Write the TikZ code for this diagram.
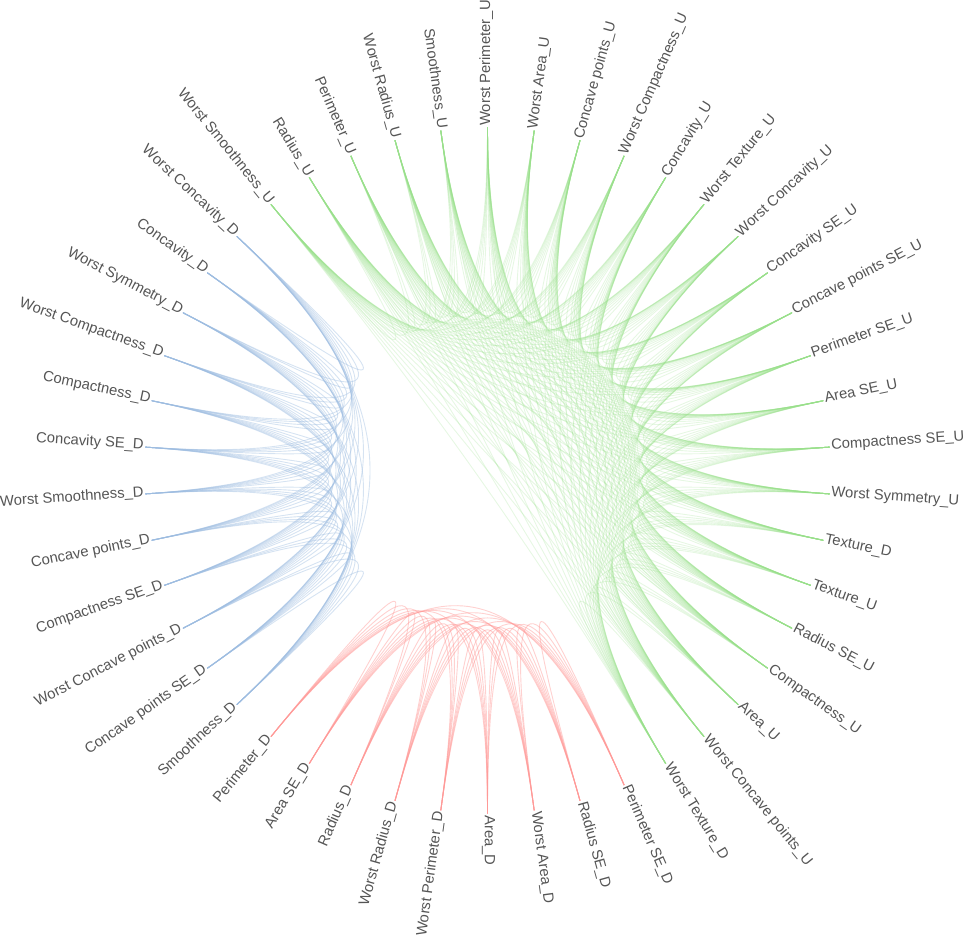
\documentclass[tikz,border=0pt]{standalone}
\usepackage{fontspec}
\setmainfont{Liberation Sans}
\definecolor{gcol}{HTML}{98DF8A}
\definecolor{bcol}{HTML}{9DBCE0}
\definecolor{rcol}{HTML}{FF9896}
\definecolor{tcol}{HTML}{555555}
\tikzset{
  edge/.style={line width=0.9pt},
  gedge/.style={edge, draw=gcol, draw opacity=0.24},
  bedge/.style={edge, draw=bcol, draw opacity=0.42},
  redge/.style={edge, draw=rcol, draw opacity=0.45},
  lbl/.style={inner sep=0pt, text=tcol, font=\fontsize{14.8}{17}\selectfont},
}
\begin{document}
\begin{tikzpicture}[x=1pt,y=1pt]
\useasboundingbox (-487.5,-466.5) rectangle (478.5,470.5);
\clip (-487.5,-466.5) rectangle (478.5,470.5);
% anchor points of the 46 leaves
\foreach \i in {1,...,46} {
  \pgfmathsetmacro\ang{90-(\i-1)*360/46}
  \coordinate (p\i) at (\ang:343);
  \coordinate (c\i) at (\ang:100);
}
% green group
\def\glist{1,2,3,4,5,6,7,8,9,10,11,12,13,14,15,16,17,18,19,20,42,43,44,45,46}
\foreach \a in \glist {
  \foreach \b in \glist {
    \ifnum\a<\b
      \draw[gedge] (p\a) .. controls (c\a) and (c\b) .. (p\b);
    \fi
  }
}
% red group
\def\rlist{21,22,23,24,25,26,27,28,29}
\foreach \a in \rlist {
  \foreach \b in \rlist {
    \ifnum\a<\b
      \draw[redge] (p\a) .. controls (c\a) and (c\b) .. (p\b);
    \fi
  }
}
% blue group
\def\blist{30,31,32,33,34,35,36,37,38,39,40,41}
\foreach \a in \blist {
  \foreach \b in \blist {
    \ifnum\a<\b
      \draw[bedge] (p\a) .. controls (c\a) and (c\b) .. (p\b);
    \fi
  }
}
% labels
\foreach \i/\txt in {
  1/Worst Perimeter\_U, 2/Worst Area\_U, 3/Concave points\_U, 4/Worst Compactness\_U,
  5/Concavity\_U, 6/Worst Texture\_U, 7/Worst Concavity\_U, 8/Concavity SE\_U,
  9/Concave points SE\_U, 10/Perimeter SE\_U, 11/Area SE\_U, 12/Compactness SE\_U,
  13/Worst Symmetry\_U, 14/Texture\_D, 15/Texture\_U, 16/Radius SE\_U,
  17/Compactness\_U, 18/Area\_U, 19/Worst Concave points\_U, 20/Worst Texture\_D,
  21/Perimeter SE\_D, 22/Radius SE\_D, 23/Worst Area\_D, 24/Area\_D,
  25/Worst Perimeter\_D, 26/Worst Radius\_D, 27/Radius\_D, 28/Area SE\_D,
  29/Perimeter\_D, 30/Smoothness\_D, 31/Concave points SE\_D, 32/Worst Concave points\_D,
  33/Compactness SE\_D, 34/Concave points\_D, 35/Worst Smoothness\_D, 36/Concavity SE\_D,
  37/Compactness\_D, 38/Worst Compactness\_D, 39/Worst Symmetry\_D, 40/Concavity\_D,
  41/Worst Concavity\_D, 42/Worst Smoothness\_U, 43/Radius\_U, 44/Perimeter\_U,
  45/Worst Radius\_U, 46/Smoothness\_U} {
  \pgfmathsetmacro\ang{90-(\i-1)*360/46}
  \ifnum\i<25
    \node[lbl, rotate=\ang, anchor=mid west] (n\i) at (\ang:344.5) {\txt};
  \else
    \node[lbl, rotate=\ang+180, anchor=mid east] (n\i) at (\ang:344.5) {\txt};
  \fi
}
\end{tikzpicture}
\end{document}
